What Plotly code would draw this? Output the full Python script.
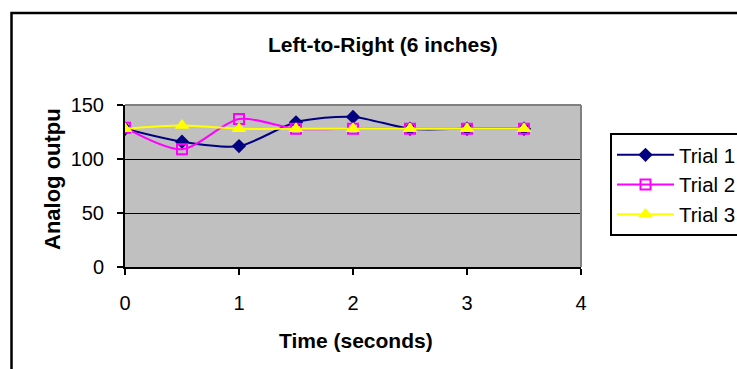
import plotly.graph_objects as go

time_s = [0, 0.5, 1, 1.5, 2, 2.5, 3, 3.5]
trial1 = [128, 116, 112, 134, 139, 128, 128, 128]
trial2 = [129, 109, 137, 128, 128, 128, 128, 128]
trial3 = [128, 131, 128, 128, 128, 128, 128, 128]
series_names = ["Trial 1", "Trial 2", "Trial 3"]
x_ticks = [0, 1, 2, 3, 4]
y_ticks = [0, 50, 100, 150]

W, H = 737, 369
L, R, T, B = 125, 156, 105, 102
PW, PH = W - L - R, H - T - B


def px(x):
    return (x - L) / PW


def py(y):
    return (H - B - y) / PH


FONT = "Liberation Sans, Arial, sans-serif"

fig = go.Figure()
styles = [
    dict(color="#000080", marker=dict(symbol="diamond", size=11, color="#000080")),
    dict(color="#FF00FF", marker=dict(symbol="square-open", size=10, color="#FF00FF",
                                      line=dict(width=2, color="#FF00FF"))),
    dict(color="#FFFF00", marker=dict(symbol="triangle-up", size=13, color="#FFFF00")),
]
for i, (name, ys) in enumerate(zip(series_names, [trial1, trial2, trial3])):
    st = styles[i]
    fig.add_trace(go.Scatter(
        x=time_s, y=ys, name=name, mode="lines+markers",
        line=dict(color=st["color"], width=2, shape="spline", smoothing=0.8),
        marker=st["marker"],
    ))

fig.update_layout(
    width=W, height=H,
    margin=dict(l=L, r=R, t=T, b=B, pad=0, autoexpand=False),
    paper_bgcolor="white",
    plot_bgcolor="#C0C0C0",
    font=dict(family=FONT, size=20, color="black"),
    showlegend=True,
    legend=dict(
        x=px(610), y=py(133), xanchor="left", yanchor="top",
        bgcolor="white", bordercolor="black", borderwidth=2,
        font=dict(family=FONT, size=20.5, color="black"),
        itemwidth=57,
    ),
    xaxis=dict(
        range=[0, 4], tickvals=x_ticks, ticktext=[str(v) for v in x_ticks],
        showgrid=False, zeroline=False,
        showline=True, linecolor="black", linewidth=2,
        ticks="outside", ticklen=6, tickwidth=2, tickcolor="black",
        ticklabelstandoff=11,
        tickfont=dict(family=FONT, size=20),
    ),
    yaxis=dict(
        range=[0, 150], tickvals=y_ticks, ticktext=[str(v) for v in y_ticks],
        showgrid=True, gridcolor="black", gridwidth=1, zeroline=False,
        showline=True, linecolor="black", linewidth=2,
        ticks="outside", ticklen=6, tickwidth=2, tickcolor="black",
        ticklabelstandoff=9,
        tickfont=dict(family=FONT, size=20),
    ),
    shapes=[
        # plot area top and right border (gray)
        dict(type="line", xref="paper", yref="paper", x0=0, x1=1, y0=1, y1=1,
             line=dict(color="#808080", width=2), layer="above"),
        dict(type="line", xref="paper", yref="paper", x0=1, x1=1, y0=0, y1=1,
             line=dict(color="#808080", width=2), layer="above"),
        # outer chart frame
        dict(type="rect", xref="paper", yref="paper",
             x0=px(11.5), x1=px(760), y0=py(390), y1=py(13),
             line=dict(color="black", width=2.5), fillcolor="rgba(0,0,0,0)", layer="above"),
    ],
    annotations=[
        dict(text="<b>Left-to-Right (6 inches)</b>", xref="paper", yref="paper",
             x=px(382.5), y=py(45), showarrow=False, xanchor="center", yanchor="middle",
             font=dict(family=FONT, size=21)),
        dict(text="<b>Time (seconds)</b>", xref="paper", yref="paper",
             x=px(356), y=py(340), showarrow=False, xanchor="center", yanchor="middle",
             font=dict(family=FONT, size=21)),
        dict(text="<b>Analog outpu</b>", xref="paper", yref="paper",
             x=px(52), y=py(179), showarrow=False, xanchor="center", yanchor="middle",
             textangle=-90, font=dict(family=FONT, size=22)),
    ],
)

fig.write_html("out.html")
